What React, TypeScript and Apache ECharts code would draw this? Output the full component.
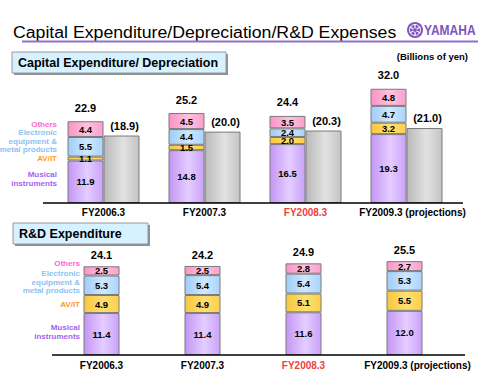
import React, { useEffect, useRef } from "react";
import * as echarts from "echarts";

const categories = ["FY2006.3", "FY2007.3", "FY2008.3", "FY2009.3 (projections)"];
const capMusical = [11.9, 14.8, 16.5, 19.3];
const capAvit = [1.1, 1.5, 2.0, 3.2];
const capElectronic = [5.5, 4.4, 2.4, 4.7];
const capOthers = [4.4, 4.5, 3.5, 4.8];
const capTotals = [22.9, 25.2, 24.4, 32.0];
const depreciation = [18.9, 20.0, 20.3, 21.0];
const rdMusical = [11.4, 11.4, 11.6, 12.0];
const rdAvit = [4.9, 4.9, 5.1, 5.5];
const rdElectronic = [5.3, 5.4, 5.4, 5.3];
const rdOthers = [2.5, 2.5, 2.8, 2.7];
const rdTotals = [24.1, 24.2, 24.9, 25.5];

const FONT = "'Liberation Sans', Arial, sans-serif";

const grad = (a: string, b: string, c: string) =>
  new echarts.graphic.LinearGradient(0, 0, 1, 0, [
    { offset: 0, color: a },
    { offset: 0.55, color: b },
    { offset: 1, color: c },
  ]);

const COLORS = {
  musical: ["#c396f5", "#e4cdff", "#cba2f8"],
  avit: ["#f7c640", "#ffe070", "#fbcf4c"],
  electronic: ["#9fcdf8", "#cfe8ff", "#a9d4fb"],
  others: ["#f993c6", "#ffc2e0", "#fb9fcc"],
  gray: ["#b9b9b9", "#e2e2e2", "#c4c4c4"],
};

function seg(name: string, data: number[], stack: string, idx: number, c: string[]) {
  return {
    type: "bar",
    name,
    data,
    stack,
    xAxisIndex: idx,
    yAxisIndex: idx,
    barWidth: 36,
    barGap: "0%",
    itemStyle: { color: grad(c[0], c[1], c[2]), borderColor: "#7a7a7a", borderWidth: 1 },
    label: {
      show: true,
      position: "inside",
      fontFamily: FONT,
      fontWeight: "bold",
      fontSize: 9.5,
      color: "#000",
      formatter: (p: any) => Number(p.value).toFixed(1),
    },
  };
}

function totalSeries(totals: number[], stack: string, idx: number, distance: number) {
  return {
    type: "bar",
    name: "total",
    stack,
    xAxisIndex: idx,
    yAxisIndex: idx,
    barWidth: 36,
    barGap: "0%",
    itemStyle: { color: "transparent", borderWidth: 0 },
    data: totals.map((t) => ({ value: 0, label: { formatter: t.toFixed(1) } })),
    label: {
      show: true,
      position: "top",
      distance,
      fontFamily: FONT,
      fontWeight: "bold",
      fontSize: 11,
      color: "#000",
    },
  };
}

function xAxis(idx: number, margin: number, projPad: number) {
  return {
    type: "category",
    gridIndex: idx,
    data: categories,
    axisLine: { show: false },
    axisTick: { show: false },
    axisLabel: {
      margin,
      interval: 0,
      fontFamily: FONT,
      fontWeight: "bold",
      fontSize: 10,
      color: "#000",
      formatter: (v: string, i: number) =>
        i === 2 ? `{r|${v}}` : i === 3 ? `{p|${v}}` : v,
      rich: {
        r: { color: "#f0403c", fontFamily: FONT, fontWeight: "bold", fontSize: 10 },
        p: { color: "#000", fontFamily: FONT, fontWeight: "bold", fontSize: 10, padding: [0, 0, 0, projPad] },
      },
    },
  };
}

function legendTexts(x: number, ys: number[], lh: number) {
  const items = [
    { t: "Others", c: "#ff66d0" },
    { t: "Electronic\nequipment &\nmetal products", c: "#8cc2f5" },
    { t: "AV/IT", c: "#ff9a2e" },
    { t: "Musical\ninstruments", c: "#a463ee" },
  ];
  return items.map((it, i) => ({
    type: "text",
    x,
    y: ys[i],
    style: {
      text: it.t,
      fill: it.c,
      fontFamily: FONT,
      fontWeight: "bold",
      fontSize: 8,
      align: "right",
      verticalAlign: "middle",
      lineHeight: lh,
    },
  }));
}

function box(x: number, y: number, w: number, h: number, text: string) {
  return [
    { type: "rect", shape: { x: x + 2, y: y + 2, width: w, height: h }, style: { fill: "#8f8f8f" } },
    { type: "rect", shape: { x, y, width: w, height: h }, style: { fill: "#d6f1ff", stroke: "#9a9a9a", lineWidth: 1 } },
    {
      type: "text",
      x: x + 6,
      y: y + h / 2 + 0.5,
      style: { text, fill: "#000", font: `bold 12.5px ${FONT}`, verticalAlign: "middle" },
    },
  ];
}

export default function App() {
  const ref = useRef<HTMLDivElement>(null);
  useEffect(() => {
    const chart = echarts.init(ref.current!, null, { renderer: "svg" });
    const purple = "#7d55bd";
    const option: any = {
      animation: false,
      backgroundColor: "#fff",
      grid: [
        { left: 53, width: 404, top: 60.2, height: 142.8 },
        { left: 51, width: 404, top: 244.6, height: 110.4 },
      ],
      xAxis: [xAxis(0, 4, 12), xAxis(1, 5, 26)],
      yAxis: [
        { type: "value", gridIndex: 0, min: 0, max: 40, show: false, splitLine: { show: false } },
        { type: "value", gridIndex: 1, min: 0, max: 30, show: false, splitLine: { show: false } },
      ],
      series: [
        seg("Musical instruments", capMusical, "cap", 0, COLORS.musical),
        seg("AV/IT", capAvit, "cap", 0, COLORS.avit),
        seg("Electronic equipment & metal products", capElectronic, "cap", 0, COLORS.electronic),
        seg("Others", capOthers, "cap", 0, COLORS.others),
        totalSeries(capTotals, "cap", 0, 8),
        {
          type: "bar",
          name: "Depreciation",
          data: depreciation,
          xAxisIndex: 0,
          yAxisIndex: 0,
          barWidth: 36,
          barGap: "0%",
          itemStyle: { color: grad(COLORS.gray[0], COLORS.gray[1], COLORS.gray[2]), borderColor: "#7a7a7a", borderWidth: 1 },
          label: {
            show: true,
            position: "top",
            distance: 4.5,
            offset: [3, 0],
            fontFamily: FONT,
            fontWeight: "bold",
            fontSize: 11,
            color: "#000",
            formatter: (p: any) => `(${Number(p.value).toFixed(1)})`,
          },
        },
        seg("Musical instruments", rdMusical, "rd", 1, COLORS.musical),
        seg("AV/IT", rdAvit, "rd", 1, COLORS.avit),
        seg("Electronic equipment & metal products", rdElectronic, "rd", 1, COLORS.electronic),
        seg("Others", rdOthers, "rd", 1, COLORS.others),
        totalSeries(rdTotals, "rd", 1, 5.5),
      ],
      graphic: [
        {
          type: "text",
          x: 13,
          y: 33,
          scaleX: 1.105,
          style: {
            text: "Capital Expenditure/Depreciation/R&D Expenses",
            fill: "#000",
            font: `16px ${FONT}`,
            verticalAlign: "middle",
          },
        },
        { type: "line", shape: { x1: 22, y1: 41.5, x2: 478, y2: 41.5 }, style: { stroke: "#9470cc", lineWidth: 2 } },
        { type: "circle", shape: { cx: 415, cy: 30, r: 8 }, style: { fill: purple } },
        { type: "circle", shape: { cx: 415, cy: 30, r: 5.5 }, style: { fill: "none", stroke: "#fff", lineWidth: 1 } },
        { type: "line", shape: { x1: 415, y1: 24, x2: 415, y2: 36 }, style: { stroke: "#fff", lineWidth: 1.2 } },
        { type: "line", shape: { x1: 409.8, y1: 27, x2: 420.2, y2: 33 }, style: { stroke: "#fff", lineWidth: 1.2 } },
        { type: "line", shape: { x1: 409.8, y1: 33, x2: 420.2, y2: 27 }, style: { stroke: "#fff", lineWidth: 1.2 } },
        { type: "circle", shape: { cx: 415, cy: 30, r: 1.8 }, style: { fill: purple } },
        {
          type: "text",
          x: 424,
          y: 30.5,
          scaleX: 0.8,
          style: { text: "YAMAHA", fill: purple, font: `bold 15px ${FONT}`, verticalAlign: "middle" },
        },
        ...box(12, 52, 214, 21, "Capital Expenditure/ Depreciation"),
        ...box(13, 223, 135, 21, "R&D Expenditure"),
        {
          type: "text",
          x: 468,
          y: 56,
          style: { text: "(Billions of yen)", fill: "#000", font: `bold 9.5px ${FONT}`, align: "right", verticalAlign: "middle" },
        },
        ...legendTexts(57, [124, 141, 158.3, 178.9], 8.3),
        ...legendTexts(80, [263.3, 282.4, 304.3, 332], 8.6),
        { type: "line", z: 100, shape: { x1: 43, y1: 203, x2: 463, y2: 203 }, style: { stroke: "#000", lineWidth: 1.5 } },
        { type: "line", z: 100, shape: { x1: 52, y1: 355, x2: 465, y2: 355 }, style: { stroke: "#000", lineWidth: 1.5 } },
      ],
    };
    chart.setOption(option);
    return () => chart.dispose();
  }, []);
  return (
    <div
      ref={ref}
      style={{ position: "fixed", left: 0, top: 0, width: 500, height: 375 }}
    />
  );
}
